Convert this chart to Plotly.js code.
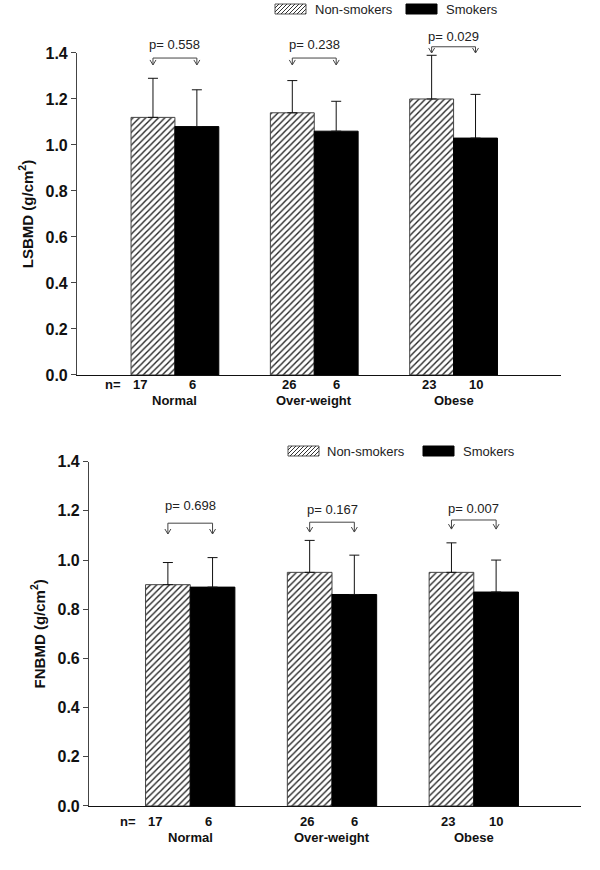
<!DOCTYPE html>
<html>
<head>
<meta charset="utf-8">
<script src="https://cdn.plot.ly/plotly-3.0.1.min.js"></script>
<style>html,body{margin:0;padding:0;background:#fff;}#chart{width:600px;height:870px;}</style>
</head>
<body>
<div id="chart"></div>
<script>
// ---------- data ----------
const categories = ['Normal', 'Over-weight', 'Obese'];
const seriesNames = ['Non-smokers', 'Smokers'];
const nNonSmokers = [17, 26, 23];
const nSmokers = [6, 6, 10];

const lsbmdNonSmokers = [1.12, 1.14, 1.20];
const lsbmdNonSmokersSD = [0.17, 0.14, 0.19];
const lsbmdSmokers = [1.08, 1.06, 1.03];
const lsbmdSmokersSD = [0.16, 0.13, 0.19];
const lsbmdP = ['0.558', '0.238', '0.029'];

const fnbmdNonSmokers = [0.90, 0.95, 0.95];
const fnbmdNonSmokersSD = [0.09, 0.13, 0.12];
const fnbmdSmokers = [0.89, 0.86, 0.87];
const fnbmdSmokersSD = [0.12, 0.16, 0.13];
const fnbmdP = ['0.698', '0.167', '0.007'];

const yTicks = [0, 0.2, 0.4, 0.6, 0.8, 1.0, 1.2, 1.4];

// ---------- layout settings ----------
const W = 600, H = 870;
const FONT = 'Liberation Sans, Arial, sans-serif';
const bargap = 0.37;
const barW = (1 - bargap) / 2;
const xIdx = categories.map((c, i) => i);
const zeros = categories.map(() => 0);
const PX = px => px / W;          // pixel x -> paper
const PY = py => 1 - py / H;      // pixel y -> paper

const panels = [
  { xa: 'x', ya: 'y', xdom: [0.1283, 0.935], ydom: [0.5690, 0.9391], xr: [-0.703, 2.771],
    title: '<b>LSBMD (g/cm<sup>2</sup>)</b>',
    non: lsbmdNonSmokers, nonSD: lsbmdNonSmokersSD, smk: lsbmdSmokers, smkSD: lsbmdSmokersSD, p: lsbmdP,
    bracket: [1.378, 1.378, 1.427], tip: [1.348, 1.348, 1.40], ptext: [1.435, 1.435, 1.47],
    nRowY: 385, nameRowY: 400,
    leg: { y: 9, box1: 275, text1: 313, box2: 406, text2: 444 } },
  { xa: 'x2', ya: 'y2', xdom: [0.1483, 0.9683], ydom: [0.0736, 0.4693], xr: [-0.714, 2.756],
    title: '<b>FNBMD (g/cm<sup>2</sup>)</b>',
    non: fnbmdNonSmokers, nonSD: fnbmdNonSmokersSD, smk: fnbmdSmokers, smkSD: fnbmdSmokersSD, p: fnbmdP,
    bracket: [1.15, 1.154, 1.163], tip: [1.106, 1.114, 1.126], ptext: [1.221, 1.207, 1.211],
    nRowY: 821, nameRowY: 837,
    leg: { y: 451, box1: 288, text1: 325, box2: 423, text2: 461 } }
];

const hatchPattern = { shape: '/', fgcolor: '#222', bgcolor: '#fff', size: 4.5, solidity: 0.3 };

const traces = [];
const annotations = [];
const shapes = [];
const layout = {
  width: W, height: H,
  margin: { l: 0, r: 0, t: 0, b: 0 },
  paper_bgcolor: '#fff', plot_bgcolor: '#fff',
  barmode: 'group', bargap: bargap, bargroupgap: 0,
  font: { family: FONT, color: '#111' },
  showlegend: false
};

function txt(xref, x, y, text, opts) {
  return Object.assign({ xref: xref, yref: 'paper', x: x, y: y, text: text, showarrow: false,
    font: { family: FONT, size: 13, color: '#111' }, xanchor: 'center', yanchor: 'middle' }, opts || {});
}

// hatched legend swatch as a path (pixel rect -> paper)
function hatchPath(x0, y0, x1, y1, step) {
  const h = y1 - y0;
  let d = '';
  for (let c = x0 - h; c < x1; c += step) {
    const t0 = Math.max(0, x0 - c), t1 = Math.min(h, x1 - c);
    if (t1 <= t0) continue;
    d += 'M' + PX(c + t0) + ',' + PY(y1 - t0) + 'L' + PX(c + t1) + ',' + PY(y1 - t1);
  }
  return d;
}

panels.forEach((P, k) => {
  const sfx = k === 0 ? '' : '2';
  traces.push({
    type: 'bar', name: seriesNames[0], x: xIdx, y: P.non, xaxis: P.xa, yaxis: P.ya,
    marker: { color: '#fff', line: { color: '#444', width: 1 }, pattern: hatchPattern },
    error_y: { type: 'data', symmetric: false, array: P.nonSD, arrayminus: zeros, color: '#111', thickness: 1, width: 5 },
    hoverinfo: 'skip'
  });
  traces.push({
    type: 'bar', name: seriesNames[1], x: xIdx, y: P.smk, xaxis: P.xa, yaxis: P.ya,
    marker: { color: '#000', line: { color: '#000', width: 1 } },
    error_y: { type: 'data', symmetric: false, array: P.smkSD, arrayminus: zeros, color: '#111', thickness: 1, width: 5 },
    hoverinfo: 'skip'
  });

  layout['xaxis' + sfx] = {
    domain: P.xdom, range: P.xr, anchor: P.ya, showline: true, linecolor: '#111', linewidth: 1.5,
    ticks: '', showticklabels: false, showgrid: false, zeroline: false, fixedrange: true
  };
  layout['yaxis' + sfx] = {
    domain: P.ydom, range: [0, 1.4], anchor: P.xa, tickvals: yTicks, ticktext: yTicks.map(v => v.toFixed(1)),
    ticks: 'outside', ticklen: 5, tickwidth: 1, tickcolor: '#444',
    showline: true, linecolor: '#444', linewidth: 1, showgrid: false, zeroline: false, fixedrange: true,
    tickfont: { family: FONT, size: 16, weight: 'bold', color: '#111' },
    title: { text: P.title, font: { family: FONT, size: 15, color: '#111' }, standoff: 8 }
  };

  const toPaper = v => P.ydom[0] + (v / 1.4) * (P.ydom[1] - P.ydom[0]);
  const xUnitsPerPx = (P.xr[1] - P.xr[0]) / ((P.xdom[1] - P.xdom[0]) * W);
  const ch = 3 * xUnitsPerPx;   // chevron half-width
  const cv = 5 / H;             // chevron height (paper)

  categories.forEach((c, i) => {
    const xN = i - barW / 2, xS = i + barW / 2;
    // category names and sample sizes
    annotations.push(txt(P.xa, i, PY(P.nameRowY), '<b>' + c + '</b>'));
    annotations.push(txt(P.xa, xN, PY(P.nRowY), '<b>' + nNonSmokers[i] + '</b>', { xshift: i === 0 ? -13 : -3 }));
    annotations.push(txt(P.xa, xS, PY(P.nRowY), '<b>' + nSmokers[i] + '</b>', { xshift: i === 0 ? -4 : 0 }));
    // p-value bracket with down arrows
    const yb = toPaper(P.bracket[i]), yt = toPaper(P.tip[i]);
    shapes.push({ type: 'path', xref: P.xa, yref: 'paper', layer: 'above',
      path: 'M' + xN + ',' + yt + 'L' + xN + ',' + yb + 'L' + xS + ',' + yb + 'L' + xS + ',' + yt,
      line: { color: '#444', width: 1 } });
    [xN, xS].forEach(xx => {
      shapes.push({ type: 'path', xref: P.xa, yref: 'paper', layer: 'above',
        path: 'M' + (xx - ch) + ',' + (yt + cv) + 'L' + xx + ',' + yt + 'L' + (xx + ch) + ',' + (yt + cv),
        line: { color: '#444', width: 1 } });
    });
    annotations.push(txt(P.xa, i, toPaper(P.ptext[i]), 'p= ' + P.p[i], { font: { family: FONT, size: 13, color: '#222' } }));
  });
  annotations.push(txt(P.xa, -barW / 2, PY(P.nRowY), '<b>n=</b>', { xshift: -40 }));

  // legend (drawn manually to match the wide swatches)
  const L = P.leg, bx0 = L.y - 5, bx1 = L.y + 5;
  shapes.push({ type: 'rect', xref: 'paper', yref: 'paper', x0: PX(L.box1), x1: PX(L.box1 + 31), y0: PY(bx1), y1: PY(bx0),
    fillcolor: '#fff', line: { color: '#555', width: 1 } });
  shapes.push({ type: 'path', xref: 'paper', yref: 'paper', path: hatchPath(L.box1, bx0, L.box1 + 31, bx1, 4),
    line: { color: '#333', width: 1 } });
  shapes.push({ type: 'rect', xref: 'paper', yref: 'paper', x0: PX(L.box2), x1: PX(L.box2 + 31), y0: PY(bx1), y1: PY(bx0),
    fillcolor: '#000', line: { color: '#000', width: 1 } });
  annotations.push({ xref: 'paper', yref: 'paper', x: PX(L.text1), y: PY(L.y), text: seriesNames[0], showarrow: false,
    xanchor: 'left', yanchor: 'middle', font: { family: FONT, size: 13, color: '#222' } });
  annotations.push({ xref: 'paper', yref: 'paper', x: PX(L.text2), y: PY(L.y), text: seriesNames[1], showarrow: false,
    xanchor: 'left', yanchor: 'middle', font: { family: FONT, size: 13, color: '#222' } });
});

layout.annotations = annotations;
layout.shapes = shapes;

Plotly.newPlot('chart', traces, layout, { displayModeBar: false, staticPlot: true });
</script>
</body>
</html>
